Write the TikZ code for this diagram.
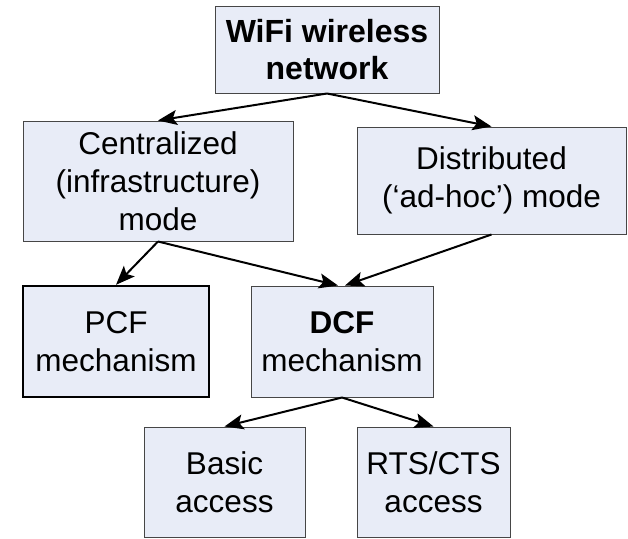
\documentclass[tikz,border=0pt]{standalone}
\usepackage{fontspec}
\setmainfont{Liberation Sans}
\usetikzlibrary{arrows.meta}
\definecolor{boxfill}{RGB}{232,236,247}
\definecolor{boxline}{RGB}{70,70,70}
\tikzset{
  box/.style={draw=boxline, line width=1pt, fill=boxfill, inner sep=0pt, align=center,
    font=\fontsize{31.5}{38}\selectfont},
  boldbox/.style={box, font=\fontsize{32}{37.5}\selectfont\bfseries},
  thickbox/.style={box, draw=black, line width=2.4pt},
  arr/.style={line width=2pt, -{Stealth[length=19pt, width=15pt, inset=4pt]}}
}
\begin{document}
\begin{tikzpicture}[x=1pt, y=-1pt]
\useasboundingbox (0,0) rectangle (628,538);
\node[boldbox, minimum width=224pt, minimum height=87pt] (top) at (327,49.5) {WiFi wireless\\network};
\node[box, minimum width=270pt, minimum height=120pt] (cent) at (158,181) {Centralized\\(infrastructure)\\mode};
\node[box, minimum width=269pt, minimum height=107pt] (dist) at (491.5,180.5) {Distributed\\(‘ad-hoc’) mode};
\node[thickbox, minimum width=186pt, minimum height=111pt] (pcf) at (116,341.5) {PCF\\mechanism};
\node[box, minimum width=182pt, minimum height=111pt] (dcf) at (342,341.5) {\textbf{DCF}\\mechanism};
\node[box, minimum width=161pt, minimum height=110pt] (basic) at (224.5,482) {Basic\\access};
\node[box, minimum width=153pt, minimum height=110pt] (rts) at (433.5,482) {RTS/CTS\\access};
\draw[arr] (top.south) -- (cent.north);
\draw[arr] (top.south) -- (dist.north);
\draw[arr] (cent.south) -- (pcf.north);
\draw[arr] (cent.south) -- ([xshift=-4pt]dcf.north);
\draw[arr] (dist.south) -- ([xshift=3pt]dcf.north);
\draw[arr] (dcf.south) -- (basic.north);
\draw[arr] (dcf.south) -- (rts.north);
\end{tikzpicture}
\end{document}
